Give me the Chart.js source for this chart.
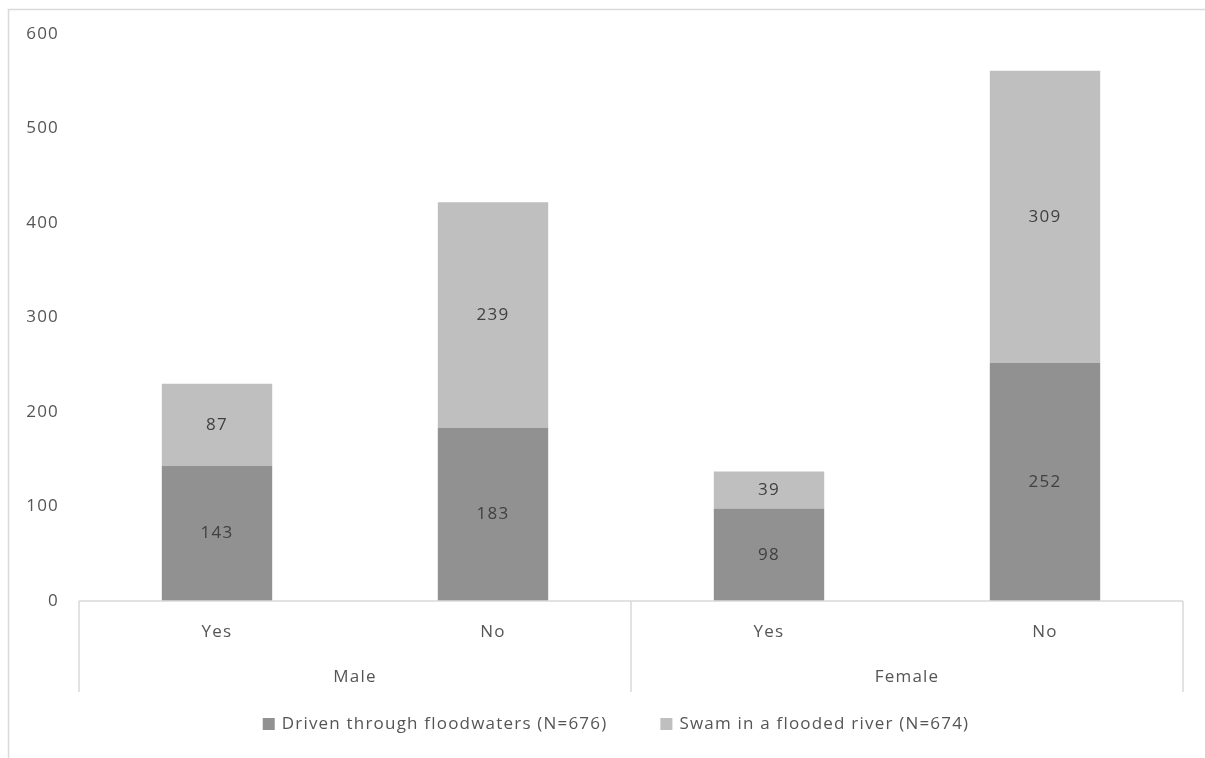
<!DOCTYPE html>
<html>
<head>
<meta charset="utf-8">
<script src="https://cdn.jsdelivr.net/npm/chart.js@4"></script>
<style>
  html, body { margin: 0; padding: 0; background: #fff; overflow: hidden; }
  #wrap { width: 1205px; height: 758px; }
</style>
</head>
<body>
<div id="wrap"><canvas id="c" width="1205" height="758"></canvas></div>
<script>
// Grouped categories: sex (outer) and answer (inner)
const groups = ['Male', 'Female'];
const answers = ['Yes', 'No', 'Yes', 'No'];
// Stacked series values
const driven = [143, 183, 98, 252];
const swam = [87, 239, 39, 309];
const seriesNames = ['Driven through floodwaters (N=676)', 'Swam in a flooded river (N=674)'];
const seriesColors = ['#919191', '#bfbfbf'];
// Value axis
const yMin = 0, yMax = 600, yStep = 100;

const FONT = '"Open Sans", "Liberation Sans", sans-serif';
const FONT_SIZE = 17;
const TEXT = '#555555';
const LINE = '#d9d9d9';

// Wider tracking for all canvas text
const spacing = {
  id: 'spacing',
  afterInit(chart) { chart.ctx.letterSpacing = '1.2px'; },
  beforeUpdate(chart) { chart.ctx.letterSpacing = '1.2px'; }
};

// Outer frame, value labels, grouped category axis and legend
const decor = {
  id: 'decor',
  beforeDraw(chart) {
    const ctx = chart.ctx;
    ctx.save();
    ctx.fillStyle = '#fff';
    ctx.fillRect(0, 0, chart.width, chart.height);
    ctx.strokeStyle = LINE;
    ctx.lineWidth = 1.5;
    ctx.beginPath();
    ctx.moveTo(8.5, chart.height);
    ctx.lineTo(8.5, 9.5);
    ctx.lineTo(chart.width, 9.5);
    ctx.stroke();
    ctx.restore();
  },
  afterDatasetsDraw(chart) {
    const ctx = chart.ctx;
    ctx.save();
    ctx.font = FONT_SIZE + 'px ' + FONT;
    ctx.fillStyle = '#404040';
    ctx.textAlign = 'center';
    ctx.textBaseline = 'middle';
    chart.data.datasets.forEach((ds, di) => {
      chart.getDatasetMeta(di).data.forEach((bar, i) => {
        ctx.fillText(String(ds.data[i]), bar.x, (bar.y + bar.base) / 2);
      });
    });
    ctx.restore();
  },
  afterDraw(chart) {
    const ctx = chart.ctx;
    const xs = chart.scales.x;
    const area = chart.chartArea;
    const n = answers.length;
    const half = (xs.getPixelForValue(1) - xs.getPixelForValue(0)) / 2;
    const left = xs.getPixelForValue(0) - half;
    const right = xs.getPixelForValue(n - 1) + half;
    const mid = (xs.getPixelForValue(1) + xs.getPixelForValue(2)) / 2;
    const y0 = area.bottom;
    const yEnd = y0 + 91;
    ctx.save();
    ctx.strokeStyle = LINE;
    ctx.lineWidth = 1.5;
    ctx.beginPath();
    ctx.moveTo(left, y0); ctx.lineTo(right, y0);
    [left, mid, right].forEach(x => { ctx.moveTo(x, y0); ctx.lineTo(x, yEnd); });
    ctx.stroke();

    ctx.font = FONT_SIZE + 'px ' + FONT;
    ctx.fillStyle = TEXT;
    ctx.textAlign = 'center';
    ctx.textBaseline = 'middle';
    ctx.fillText(groups[0], (left + mid) / 2, y0 + 76);
    ctx.fillText(groups[1], (mid + right) / 2, y0 + 76);

    // Legend
    const box = 12, gapBox = 7, gapItem = 53;
    const widths = seriesNames.map(t => ctx.measureText(t).width);
    const total = widths.reduce((a, w) => a + box + gapBox + w, 0) + gapItem;
    let x = 616 - total / 2;
    const ly = 724;
    ctx.textAlign = 'left';
    seriesNames.forEach((t, i) => {
      ctx.fillStyle = seriesColors[i];
      ctx.fillRect(x, ly - box / 2, box, box);
      ctx.fillStyle = TEXT;
      ctx.fillText(t, x + box + gapBox, ly);
      x += box + gapBox + widths[i] + gapItem;
    });
    ctx.restore();
  }
};

new Chart(document.getElementById('c'), {
  type: 'bar',
  data: {
    labels: answers,
    datasets: [
      { label: seriesNames[0], data: driven, backgroundColor: seriesColors[0], barPercentage: 0.8, categoryPercentage: 0.5 },
      { label: seriesNames[1], data: swam, backgroundColor: seriesColors[1], barPercentage: 0.8, categoryPercentage: 0.5 }
    ]
  },
  options: {
    responsive: false,
    animation: false,
    devicePixelRatio: 1,
    layout: { padding: { left: 0, right: 22, top: 34, bottom: 57 } },
    plugins: { legend: { display: false }, tooltip: { enabled: false } },
    scales: {
      x: {
        stacked: true,
        grid: { display: false, drawTicks: false },
        border: { display: false },
        ticks: { color: TEXT, font: { family: FONT, size: FONT_SIZE }, padding: 21, maxRotation: 0 },
        afterFit(s) { s.height = 100; }
      },
      y: {
        stacked: true,
        min: yMin, max: yMax,
        grid: { display: false, drawTicks: false },
        border: { display: false },
        ticks: { stepSize: yStep, color: TEXT, font: { family: FONT, size: FONT_SIZE }, padding: 20 },
        afterFit(s) { s.width = 79; }
      }
    }
  },
  plugins: [spacing, decor]
});
</script>
</body>
</html>
